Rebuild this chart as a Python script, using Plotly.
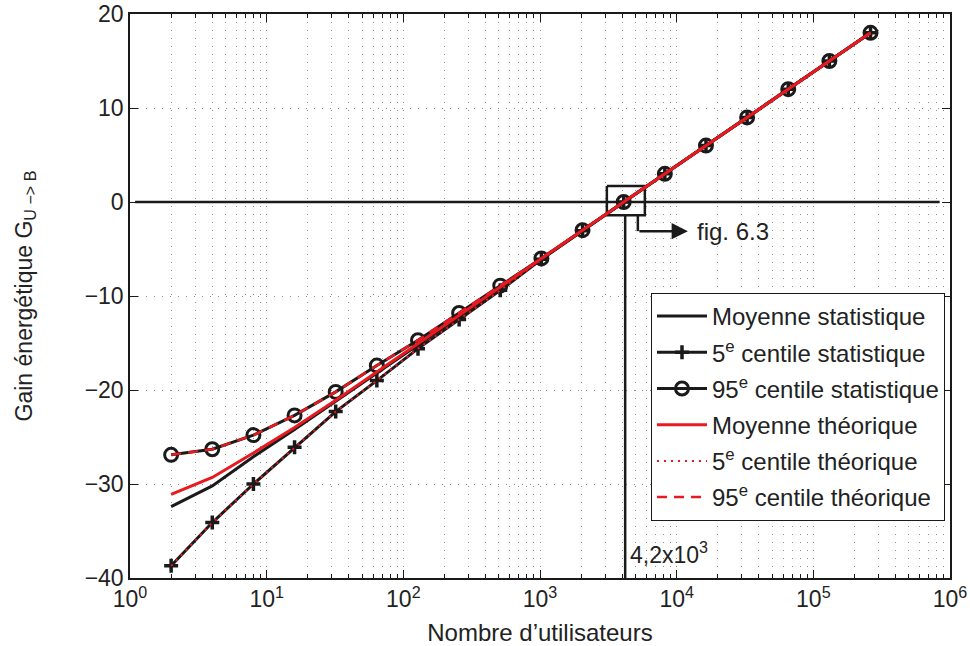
import math
import plotly.graph_objects as go

# ---- data ----
users = [2, 4, 8, 16, 32, 64, 128, 256, 512, 1024, 2048, 4096, 8192,
         16384, 32768, 65536, 131072, 262144]
mean_stat = [-32.4, -30.2, -27.1, -24.2, -21.2, -18.2, -15.2, -12.2, -9.1,
             -6.05, -3.0, 0.0, 3.0, 6.0, 9.0, 12.0, 15.0, 18.0]
p5_stat = [-38.7, -34.1, -30.0, -26.1, -22.3, -19.0, -15.6, -12.5, -9.4,
           -6.1, -3.05, 0.0, 3.0, 6.0, 9.0, 12.0, 15.0, 18.0]
p95_stat = [-26.9, -26.3, -24.8, -22.7, -20.2, -17.4, -14.7, -11.8, -8.9,
            -6.0, -3.0, 0.0, 3.0, 6.0, 9.0, 12.0, 15.0, 18.0]
mean_theo = [-31.1, -29.3, -26.7, -24.0, -21.1, -18.1, -15.1, -12.1, -9.05,
             -6.0, -3.0, 0.0, 3.0, 6.0, 9.0, 12.0, 15.0, 18.0]
p5_theo = [-38.7, -34.1, -30.0, -26.1, -22.3, -19.0, -15.6, -12.5, -9.4,
           -6.1, -3.05, 0.0, 3.0, 6.0, 9.0, 12.0, 15.0, 18.0]
p95_theo = [-26.9, -26.3, -24.8, -22.7, -20.2, -17.4, -14.7, -11.8, -8.9,
            -6.0, -3.0, 0.0, 3.0, 6.0, 9.0, 12.0, 15.0, 18.0]

x_tickvals = [1, 10, 100, 1000, 10000, 100000, 1000000]
x_ticktext = ["10<sup>0</sup>", "10<sup>1</sup>", "10<sup>2</sup>", "10<sup>3</sup>",
              "10<sup>4</sup>", "10<sup>5</sup>", "10<sup>6</sup>"]
y_tickvals = [-40, -30, -20, -10, 0, 10, 20]

crossing = 4200          # break-even number of users
zoom_box_x = [3085, 5851]
zoom_box_y = [-1.4, 1.7]
arrow_x = [5200, 12080]
arrow_y = -3.1
hline_x = [1.09, 8.4e5]

BLACK = "#1a1a1a"
RED = "#e8191f"
TXT = "#222222"
FS = 23

fig = go.Figure()

# reference lines (drawn below the curves)
fig.add_trace(go.Scatter(x=hline_x, y=[0, 0], mode="lines",
                         line=dict(color=BLACK, width=2.5), showlegend=False, hoverinfo="skip"))
fig.add_trace(go.Scatter(x=[crossing, crossing], y=[zoom_box_y[0], -40], mode="lines",
                         line=dict(color=BLACK, width=2.5), showlegend=False, hoverinfo="skip"))
fig.add_trace(go.Scatter(x=[zoom_box_x[0], zoom_box_x[1], zoom_box_x[1], zoom_box_x[0], zoom_box_x[0]],
                         y=[zoom_box_y[1], zoom_box_y[1], zoom_box_y[0], zoom_box_y[0], zoom_box_y[1]],
                         mode="lines", line=dict(color=BLACK, width=2.5),
                         showlegend=False, hoverinfo="skip"))
fig.add_trace(go.Scatter(x=[arrow_x[0], arrow_x[0]], y=[zoom_box_y[0], arrow_y], mode="lines",
                         line=dict(color=BLACK, width=2.5), showlegend=False, hoverinfo="skip"))

# data series
fig.add_trace(go.Scatter(x=users, y=mean_stat, mode="lines", name="Moyenne statistique",
                         legendgroup="a", line=dict(color=BLACK, width=3)))
fig.add_trace(go.Scatter(x=users, y=p5_stat, mode="lines+markers",
                         name="5<sup>e</sup> centile statistique", legendgroup="b",
                         line=dict(color=BLACK, width=3),
                         marker=dict(symbol="cross-thin", size=10, color=BLACK,
                                     line=dict(color=BLACK, width=3.5))))
fig.add_trace(go.Scatter(x=users, y=p95_stat, mode="lines+markers",
                         name="95<sup>e</sup> centile statistique", legendgroup="c",
                         line=dict(color=BLACK, width=3),
                         marker=dict(symbol="circle-open", size=13, color=BLACK,
                                     line=dict(color=BLACK, width=3))))
fig.add_trace(go.Scatter(x=users, y=mean_theo, mode="lines", name="Moyenne théorique",
                         legendgroup="d", line=dict(color=RED, width=3)))
fig.add_trace(go.Scatter(x=users, y=p5_theo, mode="lines", name="5<sup>e</sup> centile théorique",
                         legendgroup="e", line=dict(color=RED, width=2, dash="2px,5px")))
fig.add_trace(go.Scatter(x=users, y=p95_theo, mode="lines", name="95<sup>e</sup> centile théorique",
                         legendgroup="f", line=dict(color=RED, width=2.5, dash="10px,7px")))

grid_color = "rgba(0,0,0,0.45)"
grid_dash = "1px,7px"
minor_vals = [m * 10 ** d for d in range(6) for m in range(2, 10)]

fig.update_layout(
    width=970, height=646,
    margin=dict(l=130, r=20, t=14, b=68),
    paper_bgcolor="white", plot_bgcolor="white",
    font=dict(family="Liberation Sans, Arial, sans-serif", size=FS, color=TXT),
    xaxis=dict(
        type="log", range=[0, 6], automargin=False, ticklabeloverflow="allow",
        tickmode="array", tickvals=x_tickvals, ticktext=x_ticktext,
        ticks="inside", ticklen=8, tickwidth=1, tickcolor=BLACK,
        showline=True, linecolor=BLACK, linewidth=1.5, mirror="ticks",
        showgrid=True, gridcolor=grid_color, gridwidth=1, griddash=grid_dash,
        minor=dict(tickmode="array", tickvals=minor_vals, ticks="inside", ticklen=4,
                   tickcolor=BLACK, showgrid=True, gridcolor=grid_color,
                   griddash=grid_dash, gridwidth=1),
        zeroline=False,
        title=dict(text="Nombre d’utilisateurs", standoff=17, font=dict(size=FS + 1)),
        tickfont=dict(size=FS),
    ),
    yaxis=dict(
        range=[-40, 20], automargin=False, ticklabeloverflow="allow",
        tickmode="array", tickvals=y_tickvals,
        ticks="inside", ticklen=8, tickwidth=1, tickcolor=BLACK,
        showline=True, linecolor=BLACK, linewidth=1.5, mirror="ticks",
        showgrid=True, gridcolor=grid_color, gridwidth=1, griddash=grid_dash,
        zeroline=False,
        title=dict(text="Gain énergétique G<sub>U −> B</sub>", standoff=46, font=dict(size=FS)),
        tickfont=dict(size=FS),
    ),
    legend=dict(x=0.9939, xanchor="right", y=0.5053, yanchor="top",
                bordercolor=BLACK, borderwidth=1, bgcolor="white",
                font=dict(size=FS + 1, color=TXT), tracegroupgap=2, itemwidth=50),
    showlegend=True,
)

fig.add_annotation(x=math.log10(arrow_x[1]), y=arrow_y, ax=math.log10(arrow_x[0]), ay=arrow_y,
                   xref="x", yref="y", axref="x", ayref="y", text="", showarrow=True,
                   arrowhead=2, arrowsize=1.3, arrowwidth=2.5, arrowcolor=BLACK)
fig.add_annotation(x=math.log10(arrow_x[1]) + 0.05, y=arrow_y, xref="x", yref="y",
                   text="fig. 6.3", showarrow=False, xanchor="left", yanchor="middle",
                   font=dict(size=FS + 1, color=TXT))
fig.add_annotation(x=math.log10(crossing) + 0.02, y=-37.3, xref="x", yref="y",
                   text="4,2x10<sup>3</sup>", showarrow=False, xanchor="left", yanchor="middle",
                   font=dict(size=FS, color=TXT))

# remove the browser's default 8px body margin so the 970x646 figure fills the window
fig.write_html("out.html", config={"displayModeBar": False},
               post_script="document.body.style.margin='0';")
